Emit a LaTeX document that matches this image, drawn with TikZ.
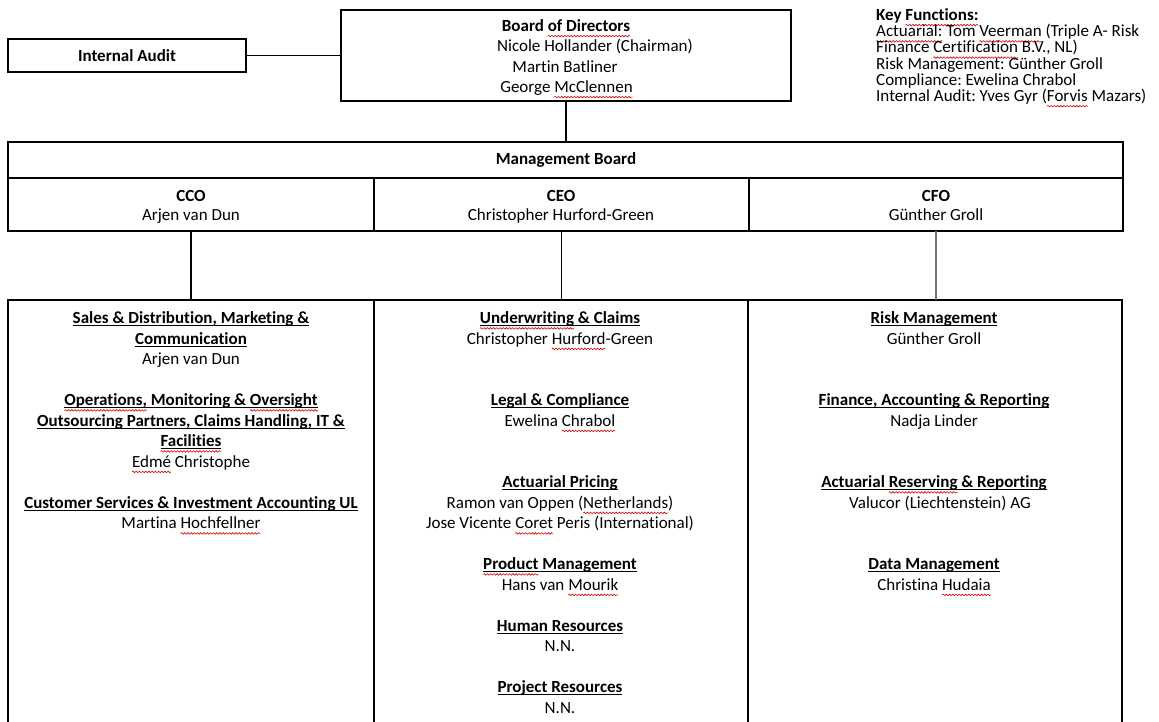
\documentclass[tikz,border=0pt]{standalone}
\usepackage{fontspec}
\usetikzlibrary{decorations.pathmorphing}
\setmainfont{Carlito}[Ligatures=NoCommon]
\newbox\ulbox
\newbox\sqbox
\newcommand\myul[1]{\setbox\ulbox\hbox{#1}\rlap{\rule[-2.3pt]{\wd\ulbox}{1.1pt}}\box\ulbox}
\newcommand\hd[1]{\myul{\textbf{#1}}}
\newcommand\sq[1]{\setbox\sqbox\hbox{#1}%
  \tikz[overlay,baseline=0pt]\draw[red!85!black, line width=0.6pt, decorate,
     decoration={snake, amplitude=0.8pt, segment length=3.2pt}]
     (0pt,-4.6pt) -- (\wd\sqbox,-4.6pt);%
  \box\sqbox}
\begin{document}
\frenchspacing
\begin{tikzpicture}[x=1pt,y=-1pt,
  box/.style={draw, line width=1.2pt, inner sep=0pt, outer sep=0pt},
  txt/.style={inner sep=0pt, anchor=base, font=\fontsize{17}{20.5}\selectfont},
  kf/.style={inner sep=0pt, anchor=base west, font=\fontsize{17}{16}\selectfont},
  link/.style={line width=1.2pt},
]
\clip (0,0) rectangle (1159,722);
\useasboundingbox (0,0) rectangle (1159,722);

% boxes
\node[box, minimum width=238pt, minimum height=33pt] (ia) at (127,55.5) {};
\node[box, minimum width=450pt, minimum height=91pt] (bod) at (566,55.5) {};
\node[box, minimum width=1115pt, minimum height=36pt, anchor=north] (mb) at (565.5,142) {};
\node[box, minimum width=366pt, minimum height=53pt, anchor=north] (cco) at (191,178) {};
\node[box, minimum width=375pt, minimum height=53pt, anchor=north] (ceo) at (561.5,178) {};
\node[box, minimum width=374pt, minimum height=53pt, anchor=north] (cfo) at (936,178) {};
\node[box, minimum width=366pt, minimum height=440pt, anchor=north] (c1) at (191,300) {};
\node[box, minimum width=374pt, minimum height=440pt, anchor=north] (c2) at (561,300) {};
\node[box, minimum width=374pt, minimum height=440pt, anchor=north] (c3) at (935,300) {};

% connectors
\draw[link] (ia.east) -- (bod.west);
\draw[link] (bod.south) -- (bod.south |- mb.north);
\draw[link] (cco.south) -- (cco.south |- c1.north);
\draw[link] (ceo.south) -- (ceo.south |- c2.north);
\draw[link, draw=black!55] (cfo.south) -- (cfo.south |- c3.north);

% top texts
\node[txt] (iat) at (127,61.5) {\textbf{Internal Audit}};
\node[txt] (bod1) at (566,31.5) {\textbf{Board \sq{of Directors}}};
\node[txt] (bod2) at (595,51.8) {Nicole Hollander (Chairman)};
\node[txt] (bod3) at (565,72.1) {Martin Batliner};
\node[txt] (bod4) at (566.5,92.5) {George \sq{McClennen}};

\node[kf] (kf1) at (876,20.5) {\textbf{Key \sq{Functions:}}};
\node[kf] (kf2) at (876,36.8) {\sq{Actuarial:} Tom \sq{Veerman} (Triple A- Risk};
\node[kf] (kf3) at (876,53) {Finance \sq{Certification} B.V., NL)};
\node[kf] (kf4) at (876,69.2) {Risk Management: Günther Groll};
\node[kf] (kf5) at (876,85.4) {Compliance: Ewelina Chrabol};
\node[kf] (kf6) at (876,101.6) {Internal Audit: Yves Gyr (\sq{Forvis} Mazars)};

\node[txt] (mbt) at (566,164.5) {\textbf{Management Board}};
\node[txt] (ccot) at (191,201.5) {\textbf{CCO}};
\node[txt] (ccon) at (191,220.8) {Arjen van Dun};
\node[txt] (ceot) at (561,201.5) {\textbf{CEO}};
\node[txt] (ceon) at (561,220.8) {Christopher Hurford-Green};
\node[txt] (cfot) at (936,201.5) {\textbf{CFO}};
\node[txt] (cfon) at (936,220.8) {Günther Groll};

% column 1
\foreach \k/\t [count=\i] in {
  0/{\hd{Sales \& Distribution, Marketing \&}},
  1/{\hd{Communication}},
  2/{Arjen van Dun},
  4/{\hd{\sq{Operations,} Monitoring \& \sq{Oversight}}},
  5/{\hd{Outsourcing Partners, Claims Handling, IT \&}},
  6/{\hd{\sq{Facilities}}},
  7/{\sq{Edmé} Christophe},
  9/{\hd{Customer Services \& Investment Accounting UL}},
  10/{Martina \sq{Hochfellner}}}
  \node[txt] (l\i) at (191,{323.8+20.5*\k}) {\t};

% column 2
\foreach \k/\t [count=\i] in {
  0/{\hd{\sq{Underwriting} \& Claims}},
  1/{Christopher \sq{Hurford}-Green},
  4/{\hd{Legal \& Compliance}},
  5/{Ewelina \sq{Chrabol}},
  8/{\hd{Actuarial Pricing}},
  9/{Ramon van Oppen (\sq{Netherlands})},
  10/{Jose Vicente \sq{Coret} Peris (International)},
  12/{\hd{\sq{Product} Management}},
  13/{Hans van \sq{Mourik}},
  15/{\hd{Human Resources}},
  16/{N.N.},
  18/{\hd{Project Resources}},
  19/{N.N.}}
  \node[txt] (m\i) at (560,{323.8+20.5*\k}) {\t};

% column 3
\foreach \k/\t/\x [count=\i] in {
  0/{\hd{Risk Management}}/934,
  1/{Günther Groll}/934,
  4/{\hd{Finance, Accounting \& Reporting}}/934,
  5/{Nadja Linder}/934,
  8/{\hd{Actuarial \sq{Reserving} \& Reporting}}/934,
  9/{Valucor (Liechtenstein) AG}/940,
  12/{\hd{Data Management}}/934,
  13/{Christina \sq{Hudaia}}/934}
  \node[txt] (r\i) at (\x,{323.8+20.5*\k}) {\t};
\end{tikzpicture}
\end{document}
